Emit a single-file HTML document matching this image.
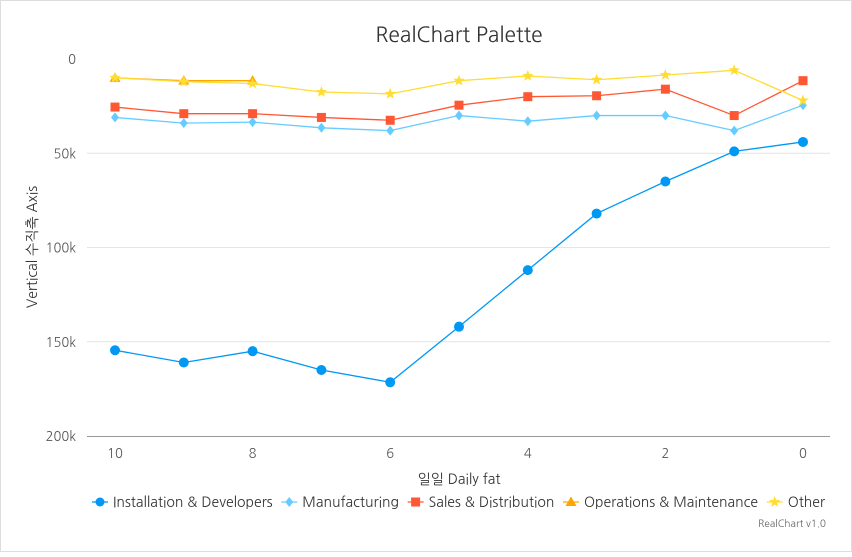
<!DOCTYPE html>
<html><head><meta charset="utf-8"><style>
body{margin:0;background:#fff;}
svg{font-family:"NanumGothic","Liberation Sans","Noto Sans CJK KR",sans-serif;}
</style></head><body>
<svg id="chart" width="852" height="552">
<rect x="0.5" y="0.5" width="851" height="551" fill="#fff" stroke="#ddd"/>
<text x="459" y="42" text-anchor="middle" font-size="21" fill="#333">RealChart Palette</text>
<text transform="translate(37,247) rotate(-90)" text-anchor="middle" font-size="14" fill="#333">Vertical 수직축 Axis</text>
<text x="459" y="484" text-anchor="middle" font-size="14" fill="#333">일일 Daily fat</text>
<text x="826" y="527" text-anchor="end" font-size="10" fill="#666">RealChart v1.0</text>
<g id="grid"></g><g id="series"></g><g id="legend"></g>
</svg>
<script>
const xCats=[10,9,8,7,6,5,4,3,2,1,0];
const yTicks=[0,50000,100000,150000,200000];
const yTickLabels=["0","50k","100k","150k","200k"];
const xTicks=[10,8,6,4,2,0];
const installation=[154500,161000,155000,165000,171500,142000,112000,82000,65000,49000,44000];
const manufacturing=[31000,34000,33500,36500,38000,30000,33000,30000,30000,38000,24500];
const sales=[25500,29000,29000,31000,32500,24500,20000,19500,16000,30000,11500];
const operations=[10000,11500,11500,null,null,null,null,null,null,null,null];
const other=[10000,12000,13000,17500,18500,11500,9000,11000,8500,6000,22000];
const seriesNames=["Installation & Developers","Manufacturing","Sales & Distribution","Operations & Maintenance","Other"];
const NS="http://www.w3.org/2000/svg";
const X=v=>803+(115-803)*(v/10);
const Y=v=>59+v*(436-59)/200000;
function mk(t,a,p){const e=document.createElementNS(NS,t);for(const k in a)e.setAttribute(k,a[k]);p.appendChild(e);return e;}
const grid=document.getElementById('grid');
yTicks.forEach((t,i)=>{
 if(i>0&&i<yTicks.length-1){const l=mk('line',{x1:87,x2:830,y1:Y(t),y2:Y(t),stroke:'#e4e4e4'},grid);
 
 }
 const tx=mk('text',{x:76,y:Y(t)+5,'text-anchor':'end','font-size':13,fill:'#555'},grid);tx.textContent=yTickLabels[i];
 
 
});
const ax=mk('line',{x1:87,x2:830,y1:436.5,y2:436.5,stroke:'#999'},grid);


xTicks.forEach(t=>{
 const tx=mk('text',{x:X(t),y:458,'text-anchor':'middle','font-size':13,fill:'#555'},grid);tx.textContent=t;
 
 
});
const colors=["#0098f5","#66ccff","#ff5733","#ffa500","#ffdd33"];
const shapes=["circle","diamond","square","triangle","star"];
function marker(shape,x,y,c,p,r){
 let e;
 if(shape==="circle")e=mk('circle',{cx:x,cy:y,r:r||5,fill:c},p);
 else if(shape==="square")e=mk('rect',{x:x-4.5,y:y-4.5,width:9,height:9,fill:c},p);
 else if(shape==="diamond")e=mk('polygon',{points:`${x},${y-5} ${x+4},${y} ${x},${y+5} ${x-4},${y}`,fill:c},p);
 else if(shape==="triangle")e=mk('polygon',{points:`${x},${y-5.5} ${x+5.5},${y+4} ${x-5.5},${y+4}`,fill:c},p);
 else{let pts=[];for(let i=0;i<10;i++){const rr=i%2?2.5:6;const a=-Math.PI/2+i*Math.PI/5;pts.push((x+rr*Math.cos(a)).toFixed(1)+','+(y+rr*Math.sin(a)).toFixed(1));}e=mk('polygon',{points:pts.join(' '),fill:c},p);}
 return e;
}
const sg=document.getElementById('series');
[installation,manufacturing,sales,operations,other].forEach((data,si)=>{
 const g=mk('g',{},sg);
 
 
 let d='';let pen=false;
 data.forEach((v,i)=>{if(v==null){pen=false;return;}d+=(pen?'L':'M')+X(xCats[i])+','+Y(v);pen=true;});
 const p=mk('path',{d:d,fill:'none',stroke:colors[si],'stroke-width':1.3},g);
 
 
 data.forEach((v,i)=>{if(v==null)return;const m=marker(shapes[si],X(xCats[i]),Y(v),colors[si],g);
  
  });
});
const lg=document.getElementById('legend');
const items=[];
let total=0;
seriesNames.forEach((n,i)=>{
 const g=mk('g',{},lg);
 
 
 const t=mk('text',{x:0,y:507,'font-size':14,fill:'#333'},g);t.textContent=n;
 const w=t.getComputedTextLength();
 items.push({g,t,w,i});total+=21+w;
});
const gap=(825-92-total)/(seriesNames.length-1);
let lx=92;
items.forEach(it=>{
 mk('line',{x1:lx,x2:lx+16,y1:502,y2:502,stroke:colors[it.i],'stroke-width':1.3},it.g);
 marker(shapes[it.i],lx+8,502,colors[it.i],it.g,4.5);
 it.t.setAttribute('x',lx+21);
 lx+=21+it.w+gap;
});
</script>
</body></html>
